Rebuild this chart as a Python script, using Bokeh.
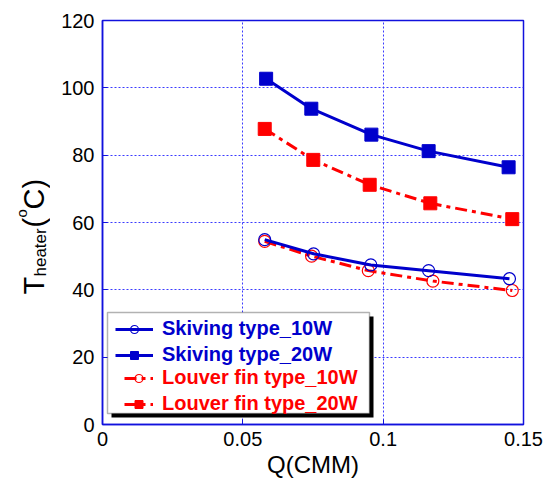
import math
from bokeh.plotting import figure
from bokeh.layouts import row
from bokeh.core.properties import value
from bokeh.models import (Range1d, FixedTicker, NumeralTickFormatter,
                          Legend, LegendItem, BoxAnnotation)
from bokeh.embed import file_html
from bokeh.resources import INLINE

# ---- data ----
X_TICKS = [0, 0.05, 0.1, 0.15]
Y_TICKS = [0, 20, 40, 60, 80, 100, 120]

Q_SKIV_10 = [0.0578, 0.0752, 0.0956, 0.1162, 0.1450]
T_SKIV_10 = [54.9, 50.7, 47.4, 45.7, 43.3]
Q_SKIV_20 = [0.0583, 0.0744, 0.0958, 0.1162, 0.1447]
T_SKIV_20 = [102.7, 93.8, 86.1, 81.2, 76.4]
Q_LOUV_10 = [0.0578, 0.0745, 0.0947, 0.1177, 0.1460]
T_LOUV_10 = [54.4, 50.0, 45.7, 42.6, 39.8]
Q_LOUV_20 = [0.0578, 0.0751, 0.0952, 0.1168, 0.1460]
T_LOUV_20 = [87.8, 78.6, 71.2, 65.7, 61.0]

LABELS = ["Skiving type_10W", "Skiving type_20W",
          "Louver fin type_10W", "Louver fin type_20W"]

# y-axis title pieces: T_heater(°C)
YT_TEXT = ["T", "heater", "(", "o", "C)"]
YT_SIZE = ["29px", "17px", "29px", "15px", "29px"]

BLUE = "#0000CC"
RED = "#FF0000"
FRAME = "#1111DD"
GRID = "#3B3BFF"
FONT = "Liberation Sans"

LW = 50   # width of the strip holding the y-axis title

# ---- y title strip (coordinates = pixels of the page) ----
yt = figure(frame_width=LW, frame_height=484, x_range=Range1d(0, LW),
            y_range=Range1d(484, 0), x_axis_type=None, y_axis_type=None,
            output_backend="svg", toolbar_location=None, min_border=0)
yt.outline_line_color = None
yt.background_fill_color = "white"
yt.border_fill_color = "white"
YT_X = [33, 40, 33, 21, 33]
YT_Y = [274, 256, 207, 197, 189]
for t, s, xx, yy in zip(YT_TEXT, YT_SIZE, YT_X, YT_Y):
    yt.text(x=[xx], y=[yy], text=[t], angle=math.pi / 2,
            text_font=value(FONT), text_font_size=value(s), text_color="black",
            text_align="left", text_baseline="alphabetic")

# ---- main plot ----
p = figure(width=547 - LW, height=484, x_range=Range1d(0, 0.15), y_range=Range1d(0, 120),
           output_backend="svg", toolbar_location=None,
           min_border_left=102 - LW, min_border_right=24, min_border_top=20,
           min_border_bottom=60)
p.background_fill_color = "white"
p.border_fill_color = "white"
p.outline_line_color = FRAME
p.outline_line_width = 1.5

for ax in (p.xaxis[0], p.yaxis[0]):
    ax.major_tick_in = 5
    ax.major_tick_out = 0
    ax.minor_tick_in = 0
    ax.minor_tick_out = 0
    ax.axis_line_color = FRAME
    ax.axis_line_width = 1.5
    ax.major_tick_line_color = FRAME
    ax.major_label_text_font = FONT
    ax.major_label_text_font_size = "20px"
    ax.major_label_text_color = "black"

p.xaxis.ticker = FixedTicker(ticks=X_TICKS)
p.yaxis.ticker = FixedTicker(ticks=Y_TICKS)
p.xaxis.formatter = NumeralTickFormatter(format="0.[00]")
p.xaxis.major_label_standoff = 7
p.yaxis.major_label_standoff = 8
p.xaxis.axis_label = "Q(CMM)"
p.xaxis.axis_label_text_font = FONT
p.xaxis.axis_label_text_font_size = "24px"
p.xaxis.axis_label_text_font_style = "normal"
p.xaxis.axis_label_text_color = "black"
p.xaxis.axis_label_standoff = 2

p.xgrid.ticker = FixedTicker(ticks=X_TICKS)
p.ygrid.ticker = FixedTicker(ticks=Y_TICKS)
p.grid.grid_line_color = GRID
p.grid.grid_line_dash = "2 2"
p.grid.grid_line_width = 1

# ---- series ----
l10 = p.line(Q_LOUV_10, T_LOUV_10, line_color=RED, line_width=3, line_dash="12 5 4 5")
s10 = p.scatter(Q_LOUV_10, T_LOUV_10, marker="circle", size=12, fill_alpha=0,
                line_color=RED, line_width=1.2)
l20 = p.line(Q_LOUV_20, T_LOUV_20, line_color=RED, line_width=3, line_dash="12 5 4 5")
s20 = p.scatter(Q_LOUV_20, T_LOUV_20, marker="square", size=13, fill_color=RED,
                line_color=RED)
b10 = p.line(Q_SKIV_10, T_SKIV_10, line_color=BLUE, line_width=3)
c10 = p.scatter(Q_SKIV_10, T_SKIV_10, marker="circle", size=12, fill_alpha=0,
                line_color=BLUE, line_width=1.2)
b20 = p.line(Q_SKIV_20, T_SKIV_20, line_color=BLUE, line_width=3)
c20 = p.scatter(Q_SKIV_20, T_SKIV_20, marker="square", size=13, fill_color=BLUE,
                line_color=BLUE)

# ---- legend box with shadow ----
shadow = BoxAnnotation(left=9, right=271, bottom=7, top=108,
                       left_units="screen", right_units="screen",
                       bottom_units="screen", top_units="screen",
                       fill_color="black", fill_alpha=1, line_alpha=0)
box = BoxAnnotation(left=5, right=267, bottom=11, top=112,
                    left_units="screen", right_units="screen",
                    bottom_units="screen", top_units="screen",
                    fill_color="white", fill_alpha=1, line_color="black", line_width=1.5)
p.add_layout(shadow, "center")
p.add_layout(box, "center")

common = dict(orientation="vertical", padding=0, margin=0, spacing=3,
              label_height=20, glyph_height=20, label_standoff=9,
              border_line_alpha=0, background_fill_alpha=0,
              label_text_font=FONT, label_text_font_size="20px",
              label_text_font_style="bold")
legA = Legend(items=[LegendItem(label=LABELS[0], renderers=[b10, c10]),
                     LegendItem(label=LABELS[1], renderers=[b20, c20])],
              location=(13, 58), glyph_width=38, label_text_color=BLUE, **common)
legB = Legend(items=[LegendItem(label=LABELS[2], renderers=[l10, s10]),
                     LegendItem(label=LABELS[3], renderers=[l20, s20])],
              location=(22, 9), glyph_width=29, label_text_color=RED, **common)
p.add_layout(legA, "center")
p.add_layout(legB, "center")

layout = row(yt, p, spacing=0)
open("out.html", "w").write(file_html(layout, INLINE))
